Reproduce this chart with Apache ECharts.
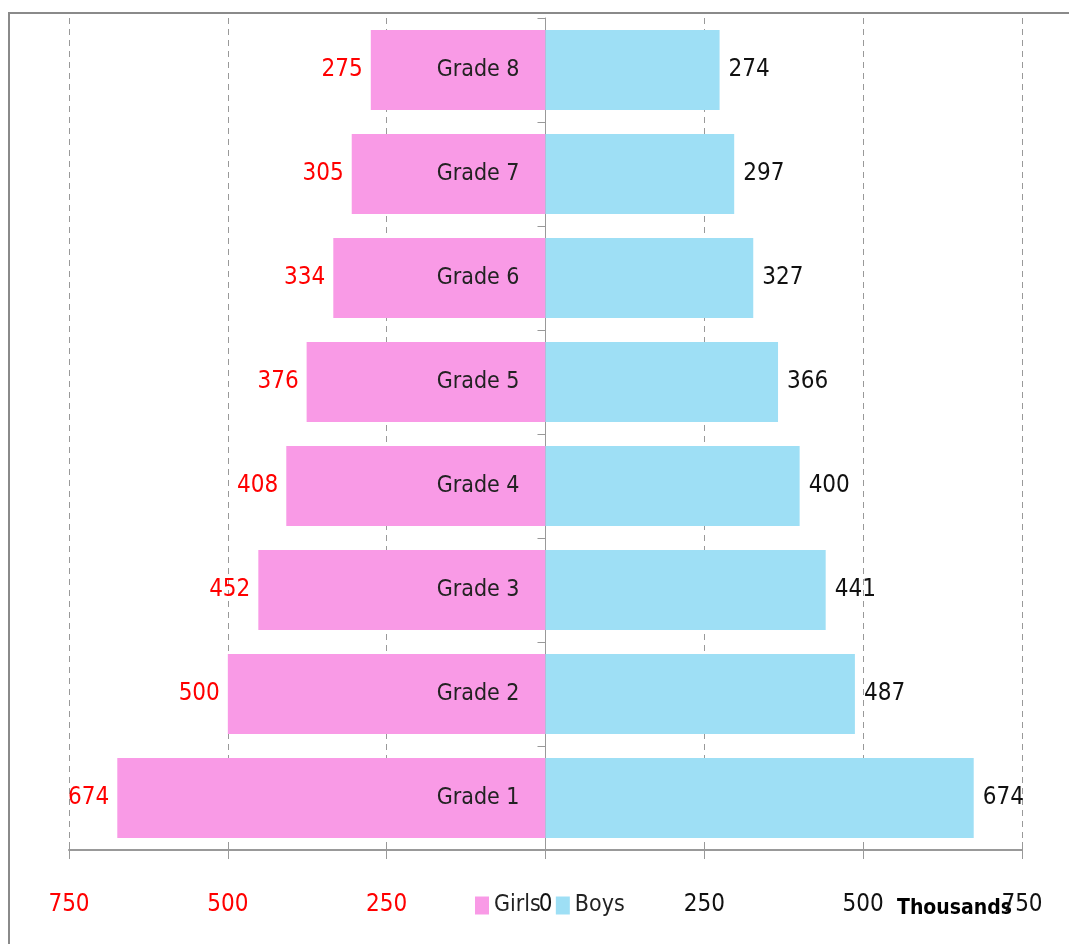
<!DOCTYPE html>
<html>
<head>
<meta charset="utf-8">
<script src="https://cdn.jsdelivr.net/npm/echarts@6/dist/echarts.min.js"></script>
<style>
html,body{margin:0;padding:0;background:#fff;}
#chart{width:1069px;height:944px;}
</style>
</head>
<body>
<div id="chart"></div>
<script>
var categories = ['Grade 1','Grade 2','Grade 3','Grade 4','Grade 5','Grade 6','Grade 7','Grade 8'];
var girls = [674, 500, 452, 408, 376, 334, 305, 275];
var boys = [674, 487, 441, 400, 366, 327, 297, 274];
var tickValues = [-750, -500, -250, 0, 250, 500, 750];

var FONT = '"Liberation Sans Narrow", "DejaVu Sans Condensed", "Noto Sans", sans-serif';
var chart = echarts.init(document.getElementById('chart'));
var girlsNeg = girls.map(function(v){ return -v; });

chart.setOption({
  animation: false,
  textStyle: { fontFamily: FONT },
  grid: { left: 69, right: 47, top: 18, bottom: 94, outerBoundsMode: 'none', containLabel: false },
  legend: {
    left: 470, top: 889,
    itemWidth: 14, itemHeight: 18, itemGap: 15,
    icon: 'rect',
    textStyle: { fontFamily: FONT, fontSize: 23, color: '#222' },
    data: ['Girls', 'Boys']
  },
  graphic: [
    { type: 'rect', shape: { x: 9, y: 13, width: 1200, height: 1100 }, style: { fill: 'none', stroke: '#8a8a8a', lineWidth: 2 }, silent: true },
    { type: 'text', left: 897, top: 898, style: { text: 'Thousands', font: 'bold 21px ' + FONT, fill: '#000' } }
  ],
  xAxis: [{
    type: 'value', min: -750, max: 750, interval: 250,
    axisLine: { show: true, lineStyle: { color: '#999', width: 2 } },
    axisTick: { show: true, length: 9, lineStyle: { color: '#999' } },
    splitLine: { show: true, lineStyle: { color: '#999', type: [6, 5], width: 1 } },
    axisLabel: {
      margin: 43, fontSize: 24, fontFamily: FONT,
      formatter: function(v){ return String(Math.abs(v)); },
      color: function(v){ return Number(v) < 0 ? '#ff0000' : '#111'; }
    }
  }, {
    type: 'value', min: -750, max: 750, interval: 250, position: 'bottom',
    axisLine: { show: false },
    axisTick: { show: true, inside: true, length: 8, lineStyle: { color: '#999' } },
    splitLine: { show: false },
    axisLabel: { show: false }
  }],
  yAxis: {
    type: 'category', data: categories,
    axisLine: { show: true, onZero: true, lineStyle: { color: '#999', width: 1 } },
    axisTick: { show: true, length: 8, lineStyle: { color: '#999' } },
    axisLabel: { show: false }
  },
  series: [{
    name: 'Girls', type: 'bar', stack: 'total', barCategoryGap: '23%', barGap: '-100%',
    data: girlsNeg,
    itemStyle: { color: '#f99ae6' },
    label: { show: true, position: 'insideRight', distance: 26, fontSize: 23, color: '#222', fontFamily: FONT,
      formatter: function(p){ return p.name; } }
  }, {
    name: 'Boys', type: 'bar', stack: 'total', barCategoryGap: '23%', barGap: '-100%',
    data: boys,
    itemStyle: { color: '#9edff5' },
    label: { show: true, position: 'right', distance: 9, fontSize: 24, color: '#111', fontFamily: FONT }
  }, {
    name: 'GirlsValues', type: 'bar', barCategoryGap: '23%', barGap: '-100%', silent: true,
    data: girlsNeg,
    itemStyle: { color: 'rgba(0,0,0,0)' },
    label: { show: true, position: 'left', distance: 8, fontSize: 24, color: '#ff0000', fontFamily: FONT,
      formatter: function(p){ return String(Math.abs(p.value)); } }
  }]
});
</script>
</body>
</html>
